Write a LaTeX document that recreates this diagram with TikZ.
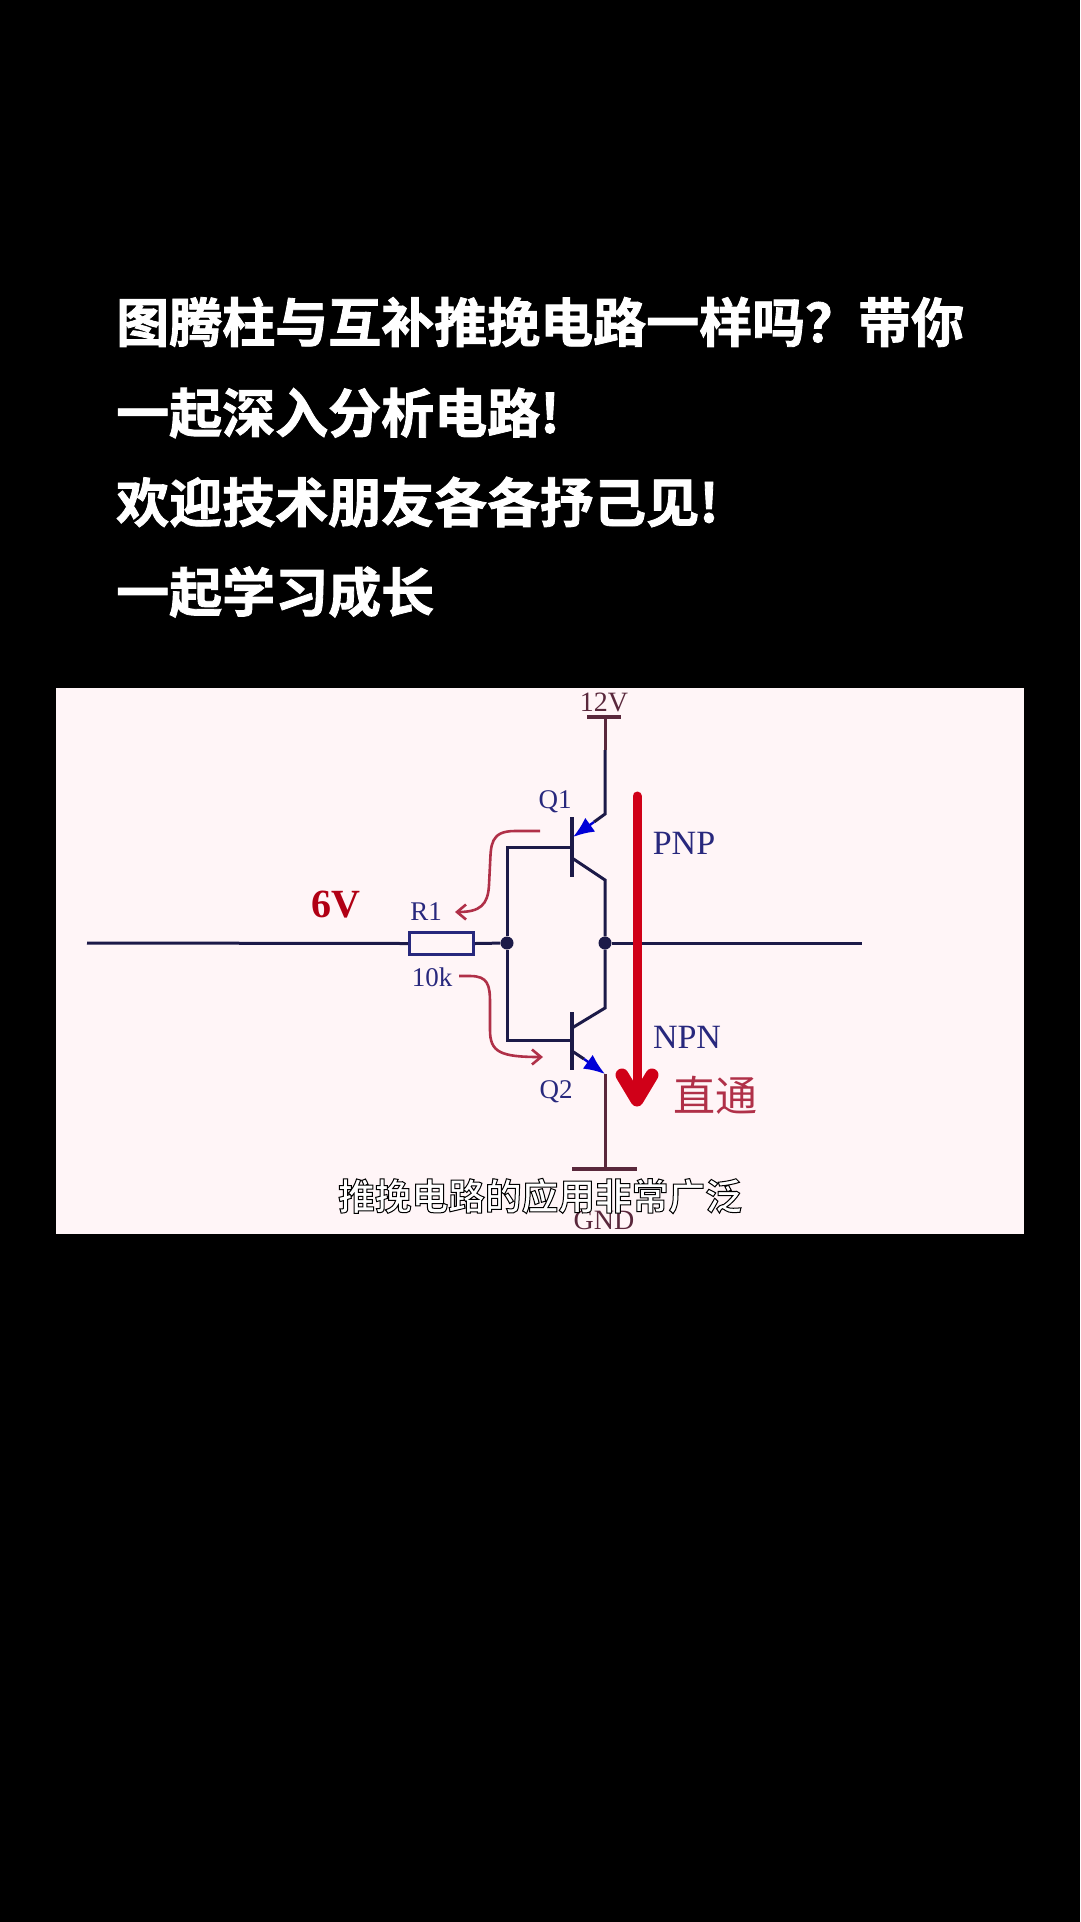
\documentclass[tikz,border=0pt]{standalone}
\usepackage{fontspec}
\usetikzlibrary{arrows.meta}
\setmainfont{Liberation Serif}
\newfontfamily\cjktitle[BoldFont={* Bold},FakeBold=1.6]{Noto Sans CJK SC}
\newfontfamily\cjksub[BoldFont={* Bold}]{Noto Sans CJK SC}
\newfontfamily\cjkbody{Noto Sans CJK SC}
\definecolor{panelpink}{RGB}{255,245,247}
\definecolor{wirenavy}{RGB}{28,26,72}
\definecolor{wirebrown}{RGB}{90,40,60}
\definecolor{labelnavy}{RGB}{40,40,125}
\definecolor{bigred}{RGB}{208,0,24}
\definecolor{softred}{RGB}{176,48,72}
\definecolor{emblue}{RGB}{0,0,215}
\tikzset{
  wire/.style={draw=wirenavy,line width=3pt},
  railwire/.style={draw=wirebrown,line width=3pt},
  railbar/.style={draw=wirebrown,line width=3.4pt},
  junction/.style={circle,fill=wirenavy,minimum size=13pt,inner sep=0pt},
  resistor/.style={rectangle,draw=labelnavy,fill=panelpink,line width=3pt,minimum width=64pt,minimum height=22pt,inner sep=0pt},
  lab/.style={text=labelnavy,inner sep=0pt,font=\fontsize{27}{29}\selectfont},
  biglab/.style={text=labelnavy,inner sep=0pt,font=\fontsize{34}{36}\selectfont},
  raillab/.style={text=wirebrown,inner sep=0pt,font=\fontsize{28}{30}\selectfont},
  titleline/.style={text=white,inner sep=0pt,anchor=west,font=\fontsize{53}{55}\selectfont\cjktitle\bfseries},
  curvearrow/.style={draw=softred,line width=2.6pt,-{Straight Barb[length=9pt,width=15pt,line width=2.6pt]}},
  emitterarrow/.style={draw=emblue,line width=2.4pt,-{Latex[length=21pt,width=17pt]}},
  bigshaft/.style={draw=bigred,line width=9pt,line cap=round},
  bighead/.style={draw=bigred,line width=13pt,line cap=round,line join=round},
}
\begin{document}
\begin{tikzpicture}[x=1pt,y=-1pt]
\useasboundingbox (0,0) rectangle (1080,1922);
\fill[black] (0,0) rectangle (1080,1922);
\fill[panelpink] (56,688) rectangle (1024,1234);

% title
\node[titleline] (t1) at (116,322) {图腾柱与互补推挽电路一样吗\char"FF1F 带你};
\node[titleline] (t2) at (116,413) {一起深入分析电路!};
\node[titleline] (t3) at (116,502) {欢迎技术朋友各各抒己见!};
\node[titleline] (t4) at (116,592) {一起学习成长};

% anchors
\coordinate (inL) at (87,943);
\coordinate (outR) at (862,943);
\node[junction] (jb) at (507,943) {};
\node[junction] (jo) at (605,943) {};
\node[resistor] (r1) at (441.5,943.5) {};
\coordinate (vcc) at (605,717);
\coordinate (vccL) at (587,717);
\coordinate (vccR) at (621,717);
\coordinate (vccmid) at (605,750);
\coordinate (gnd) at (605,1169);
\coordinate (gndL) at (572,1169);
\coordinate (gndR) at (637,1169);
% Q1
\coordinate (q1barT) at (572,817);
\coordinate (q1barB) at (572,877);
\coordinate (q1b) at (572,847);
\coordinate (q1bL) at (507,847);
\coordinate (q1eT) at (605,814);
\coordinate (q1eM) at (594,822);
\coordinate (q1eTip) at (573,837);
\coordinate (q1cS) at (572,858);
\coordinate (q1cE) at (605,880);
% Q2
\coordinate (q2barT) at (572,1012);
\coordinate (q2barB) at (572,1070);
\coordinate (q2b) at (572,1040);
\coordinate (q2bL) at (507,1040);
\coordinate (q2cS) at (572,1028);
\coordinate (q2cE) at (605,1008);
\coordinate (q2eS) at (572,1051);
\coordinate (q2eM) at (584,1059);
\coordinate (q2eTip) at (605,1074);

% wires
\draw[wire] (inL) -- (r1.west);
\draw[wire] (r1.east) -- (jb);
\draw[wire] (jo) -- (outR);
\draw[wire] (q1bL) -- (jb);
\draw[wire,line cap=rect] (q1bL) -- (q1b);
\draw[wire,line join=miter] (jb) -- (q2bL) -- (q2b);
\draw[wire,line width=3.4pt] (q1barT) -- (q1barB);
\draw[wire,line width=3.4pt] (q2barT) -- (q2barB);
\draw[wire] (vccmid) -- (q1eT) -- (q1eM);
\draw[wire] (q1cS) -- (q1cE) -- (jo);
\draw[wire] (jo) -- (q2cE) -- (q2cS);
\draw[wire] (q2eS) -- (q2eM);
\draw[emitterarrow] (q1eM) -- (q1eTip);
\draw[emitterarrow] (q2eM) -- (q2eTip);
\draw[railwire] (vcc) -- (vccmid);
\draw[railwire] (q2eTip) -- (gnd);
\draw[railbar] (vccL) -- (vccR);
\draw[railbar] (gndL) -- (gndR);

% big arrow
\coordinate (bigT) at (637,796);
\coordinate (bigB) at (637,1100);
\coordinate (bigHL) at (622,1075);
\coordinate (bigHR) at (652,1075);
\draw[bigshaft] (bigT) -- (bigB);
\draw[bighead] (bigHL) -- (bigB) -- (bigHR);

% labels
\node[raillab] (v12) at (604,702) {12V};
\node[raillab] (gndl) at (604,1220) {GND};
\node[lab] (q1l) at (555,802) {Q1};
\node[lab] (q2l) at (556,1092) {Q2};
\node[lab] (r1l) at (426,912) {R1};
\node[lab] (r1v) at (432,977) {10k};
\node[biglab] (pnp) at (684,843) {PNP};
\node[biglab] (npn) at (687,1037) {NPN};
\node[inner sep=0pt,text=bigred!85!black,font=\fontsize{40}{42}\selectfont\bfseries] (six) at (336,905) {6V};
\node[inner sep=0pt,text=softred,font=\fontsize{42}{44}\selectfont\cjkbody] (zt) at (715,1095) {直通};

% curved arrows
\coordinate (a1s) at (540,831);
\coordinate (a1e) at (455,912);
\coordinate (a2s) at (459,976);
\coordinate (a2e) at (543,1057);
\draw[curvearrow] (a1s) -- (515,831) .. controls (490,831) and (491,845) .. (490,865)
   -- (489,885) .. controls (488,905) and (480,912) .. (a1e);
\draw[curvearrow] (a2s) -- (470,976) .. controls (488,976) and (490,985) .. (490,1003)
   -- (490,1030) .. controls (490,1052) and (500,1057) .. (a2e);

% subtitle
\node[inner sep=0pt,text=white,font=\fontsize{36.7}{40}\selectfont\cjksub\bfseries] (subt) at (540,1196)
  {\special{pdf:code q 0 0 0 RG 1 w 2 Tr}推挽电路的应用非常广泛\special{pdf:code 0 Tr Q}};
\end{tikzpicture}
\end{document}
